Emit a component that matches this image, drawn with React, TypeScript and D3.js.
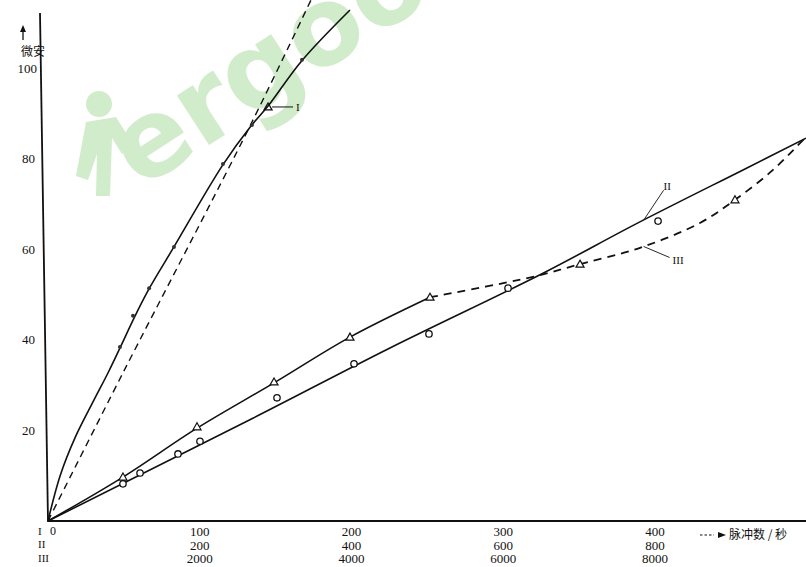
import React from "react";
import * as d3 from "d3";

// ---- Data ----
// Curve I: x in row-1 units (0..400), y in 微安
const curveISolid: [number, number][] = [
  [0, 0], [8, 10], [18, 18.5], [30, 26.5], [40, 33], [48, 38.6], [57, 45], [67, 51.5],
  [83, 60.5], [115, 78.5], [134, 87.3], [145, 91.6], [167, 101.5], [199, 112.8],
];
const curveIDashed: [number, number][] = [[0, 0], [49.4, 32.7], [133.1, 87.2], [173.3, 115]];
const curveIDots: [number, number][] = [
  [47.4, 38.4], [56, 45.3], [66.6, 51.4], [83, 60.5], [115.3, 78.8], [134.4, 87.4], [167.4, 101.8],
];
const curveITriangle: [number, number][] = [[145, 91.4]];

// Curve II: x in row-2 units (0..800)
const curveIILine: [number, number][] = [
  [0, 0], [270, 22.7], [450.7, 38.2], [652.4, 54.7], [776.3, 65.7], [916, 77.5], [999, 84.5],
];
const curveIICircles: [number, number][] = [
  [98.8, 8.2], [121.3, 10.6], [171.3, 14.8], [200.3, 17.6], [301.8, 27.2],
  [403.3, 34.7], [502.1, 41.3], [606.3, 51.4], [804, 66.2],
];

// Curve III: x in row-3 units (0..8000)
const curveIIISolid: [number, number][] = [
  [0, 0], [988, 9.7], [1964, 20.5], [2979, 30.5], [3980, 40.6], [5035, 49.4],
];
const curveIIIDashed: [number, number][] = [
  [5035, 49.4], [6392, 53.9], [7012, 56.7], [7802, 60.3], [8593, 65.8], [9054, 70.9], [9555, 77.5], [9990, 84.8],
];
const curveIIITriangles: [number, number][] = [
  [988, 9.7], [1964, 20.8], [2979, 30.7], [3980, 40.6], [5035, 49.4], [7012, 56.7], [9054, 70.9],
];

// Tick labels
const xTicksI = [100, 200, 300, 400];
const xLabelsII = ["200", "400", "600", "800"];
const xLabelsIII = ["2000", "4000", "6000", "8000"];
const yTicks = [20, 40, 60, 80, 100];
const rowNames = ["I", "II", "III"];

export default function App() {
  const W = 806, H = 567;
  const x0 = 48, x1 = 655;
  const xI = d3.scaleLinear().domain([0, 400]).range([x0, x1]);
  const xII = d3.scaleLinear().domain([0, 800]).range([x0, x1]);
  const xIII = d3.scaleLinear().domain([0, 8000]).range([x0, x1]);
  const y = d3.scaleLinear().domain([0, 100]).range([521, 68]);

  const mk = (xs: d3.ScaleLinear<number, number>, curve = d3.curveCatmullRom.alpha(0.5)) =>
    d3.line<[number, number]>().x(d => xs(d[0])).y(d => y(d[1])).curve(curve);

  const tri = (cx: number, cy: number, s = 4.5) =>
    `M${cx},${cy - s}L${cx + s},${cy + s * 0.75}L${cx - s},${cy + s * 0.75}Z`;

  const serif = "'Liberation Serif', 'DejaVu Serif', serif";
  const cjk = "'Noto Sans CJK SC', sans-serif";

  const ox = xI(0), oy = y(0);
  const triI = curveITriangle[0];
  const iiLeadPt = [xII(785), y(66.4)];
  const iiiLeadPt = [xIII(7850), y(60.6)];

  return (
    <svg width={W} height={H} style={{ display: "block", position: "absolute", left: 0, top: 0, background: "#fff" }}>
      <rect width={W} height={H} fill="#fff" />
      {/* watermark */}
      <g fill="#cdeac5" opacity={0.9}>
        <text x={0} y={0} transform="translate(140,190) rotate(-33)" fontFamily="'DejaVu Sans', sans-serif" fontWeight={900} fontSize={108}>
          ergoo
        </text>
        <circle cx={99} cy={104} r={13} />
        <path d="M86,122 L116,117 L134,146 L122,154 L112,138 L110,196 L96,196 L97,154 L88,180 L76,176 Z" />
      </g>

      {/* axes */}
      <line x1={ox - 8} y1={13} x2={ox} y2={oy + 1} stroke="#111" strokeWidth={1.8} />
      <line x1={ox} y1={oy} x2={W} y2={oy} stroke="#111" strokeWidth={2} />
      {yTicks.map(t => (
        <text key={t} x={t === 100 ? 37 : 35} y={y(t)} dy="0.35em" textAnchor="end" fontFamily={serif} fontSize={13} fill="#111">
          {t}
        </text>
      ))}
      <text x={33} y={y(100) - 16} dy="0.35em" textAnchor="middle" fontFamily={cjk} fontSize={12} fill="#111">微安</text>
      <line x1={23} y1={40} x2={23} y2={29} stroke="#111" strokeWidth={1.3} />
      <path d="M20,32 L23,25 L26,32 Z" fill="#111" />

      {/* x tick labels */}
      {xTicksI.map((t, i) => (
        <g key={t} fontFamily={serif} fontSize={13} fill="#111" textAnchor="middle">
          <text x={xI(t)} y={531} dy="0.35em">{t}</text>
          <text x={xI(t)} y={545} dy="0.35em">{xLabelsII[i]}</text>
          <text x={xI(t)} y={558.5} dy="0.35em">{xLabelsIII[i]}</text>
        </g>
      ))}
      <g fontFamily={serif} fontSize={11} fill="#111">
        {rowNames.map((r, i) => (
          <text key={r} x={38} y={531 + i * 13.5} dy="0.35em">{r}</text>
        ))}
        <text x={ox + 2} y={531} dy="0.35em" fontSize={12}>0</text>
      </g>
      <g>
        <line x1={700} y1={535} x2={714} y2={535} stroke="#111" strokeWidth={1} strokeDasharray="2.5,2" />
        <path d="M718,532 L726,535 L718,538 Z" fill="#111" />
        <text x={729} y={535} dy="0.35em" fontFamily={cjk} fontSize={12} fill="#111">脉冲数 / 秒</text>
      </g>

      {/* Curve I */}
      <path d={mk(xI)(curveISolid) || ""} fill="none" stroke="#111" strokeWidth={1.6} />
      <path d={mk(xI)(curveIDashed) || ""} fill="none" stroke="#111" strokeWidth={1.4} strokeDasharray="7,5" />
      {curveIDots.map((d, i) => (
        <circle key={i} cx={xI(d[0])} cy={y(d[1])} r={2} fill="#333" />
      ))}
      {curveITriangle.map((d, i) => (
        <path key={i} d={tri(xI(d[0]), y(d[1]), 4)} fill="none" stroke="#111" strokeWidth={1.3} />
      ))}
      <line x1={xI(triI[0]) + 4} y1={y(triI[1])} x2={xI(triI[0]) + 25} y2={y(triI[1])} stroke="#111" strokeWidth={1} />
      <text x={xI(triI[0]) + 28} y={y(triI[1])} dy="0.35em" fontFamily={serif} fontSize={11} fill="#111">I</text>

      {/* Curve II */}
      <path d={mk(xII)(curveIILine) || ""} fill="none" stroke="#111" strokeWidth={1.6} />
      {curveIICircles.map((d, i) => (
        <circle key={i} cx={xII(d[0])} cy={y(d[1])} r={3.2} fill="#fff" stroke="#111" strokeWidth={1.3} />
      ))}
      <line x1={iiLeadPt[0]} y1={iiLeadPt[1]} x2={iiLeadPt[0] + 20} y2={iiLeadPt[1] - 30} stroke="#111" strokeWidth={0.9} />
      <text x={iiLeadPt[0] + 20} y={iiLeadPt[1] - 34} dy="0.35em" fontFamily={serif} fontSize={11} fill="#111">II</text>

      {/* Curve III */}
      <path d={mk(xIII)(curveIIISolid) || ""} fill="none" stroke="#111" strokeWidth={1.6} />
      <path d={mk(xIII)(curveIIIDashed) || ""} fill="none" stroke="#111" strokeWidth={1.8} strokeDasharray="8,6" />
      {curveIIITriangles.map((d, i) => (
        <path key={i} d={tri(xIII(d[0]), y(d[1]), 4)} fill="#fff" stroke="#111" strokeWidth={1.2} />
      ))}
      <line x1={iiiLeadPt[0]} y1={iiiLeadPt[1]} x2={iiiLeadPt[0] + 26} y2={iiiLeadPt[1] + 11} stroke="#111" strokeWidth={0.9} />
      <text x={iiiLeadPt[0] + 29} y={iiiLeadPt[1] + 14} dy="0.35em" fontFamily={serif} fontSize={11} fill="#111">III</text>
    </svg>
  );
}
